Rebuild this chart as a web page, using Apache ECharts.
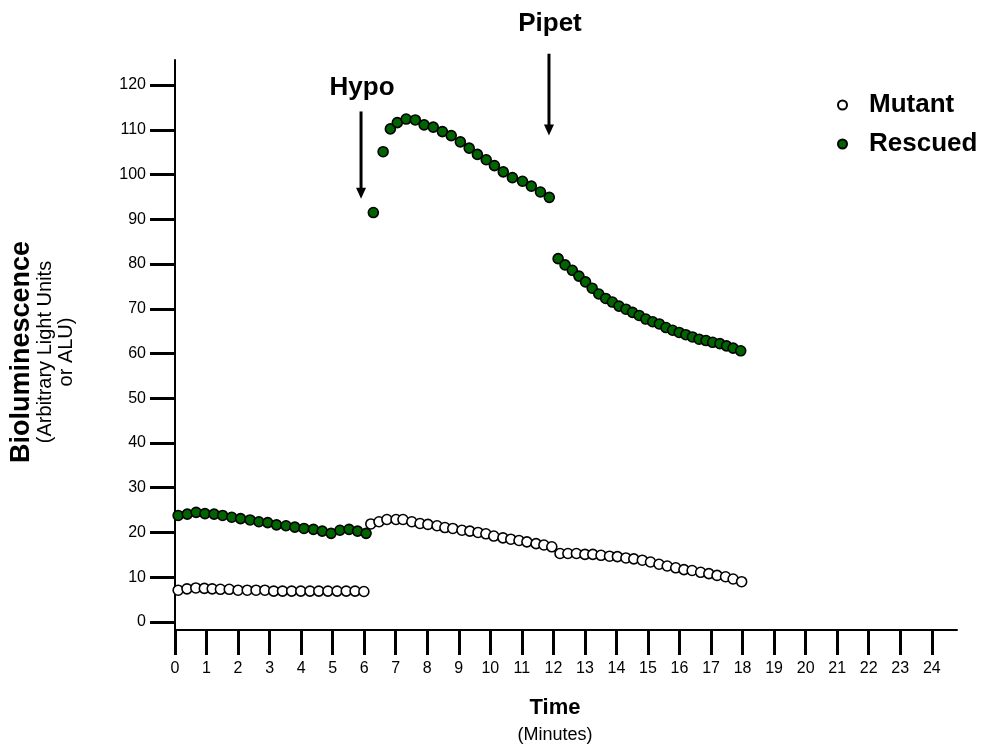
<!DOCTYPE html>
<html><head><meta charset="utf-8">
<script src="https://cdn.jsdelivr.net/npm/echarts@6/dist/echarts.min.js"></script>
<style>html,body{margin:0;padding:0;background:#fff}#c{width:983px;height:752px}</style>
</head><body><div id="c"></div>
<script>
// ---- data ----
const xTicks = [0,1,2,3,4,5,6,7,8,9,10,11,12,13,14,15,16,17,18,19,20,21,22,23,24];
const yTicks = [0,10,20,30,40,50,60,70,80,90,100,110,120];

const mutantTime = [0.10,0.38,0.66,0.93,1.18,1.44,1.72,2.00,2.29,2.57,2.85,3.13,3.41,3.70,3.99,4.28,4.56,4.85,5.14,5.43,5.71,5.99,
  6.21,6.47,6.72,7.01,7.23,7.51,7.77,8.02,8.31,8.56,8.81,9.10,9.35,9.61,9.86,10.11,10.40,10.65,10.91,11.16,11.45,11.70,11.95,
  12.21,12.46,12.73,13.00,13.25,13.51,13.78,14.03,14.30,14.55,14.82,15.08,15.35,15.61,15.88,16.14,16.40,16.67,16.93,17.19,17.46,17.70,17.97];
const mutantValue = [7.1,7.4,7.6,7.5,7.4,7.3,7.3,7.1,7.1,7.1,7.1,6.9,6.9,6.9,6.9,6.9,6.9,6.9,6.9,6.9,6.9,6.8,
  21.9,22.4,22.9,22.9,22.9,22.4,22.0,21.8,21.5,21.1,20.9,20.5,20.3,20.0,19.7,19.2,18.8,18.5,18.2,17.9,17.5,17.2,16.8,
  15.3,15.3,15.3,15.1,15.1,14.9,14.7,14.6,14.3,14.1,13.8,13.4,12.9,12.5,12.1,11.7,11.5,11.1,10.8,10.4,10.1,9.6,9.0];

const rescuedTime = [0.10,0.39,0.67,0.95,1.24,1.51,1.80,2.08,2.38,2.66,2.94,3.22,3.52,3.80,4.09,4.39,4.67,4.95,5.23,5.52,5.79,6.06,
  6.29,6.60,6.83,7.05,7.33,7.62,7.90,8.19,8.48,8.76,9.05,9.33,9.59,9.87,10.13,10.41,10.70,11.02,11.30,11.59,11.87,
  12.15,12.37,12.60,12.81,13.02,13.23,13.44,13.66,13.87,14.08,14.30,14.51,14.72,14.93,15.15,15.36,15.57,15.78,15.99,16.20,16.41,16.62,16.84,17.05,17.28,17.49,17.70,17.94];
const rescuedValue = [23.8,24.1,24.5,24.2,24.1,23.8,23.4,23.1,22.8,22.4,22.2,21.7,21.5,21.2,20.9,20.7,20.3,19.8,20.5,20.7,20.3,19.8,
  91.5,105.1,110.2,111.6,112.4,112.2,111.1,110.6,109.6,108.7,107.3,105.9,104.5,103.3,102.0,100.6,99.3,98.5,97.4,96.1,94.9,
  81.2,79.8,78.6,77.3,76.0,74.6,73.3,72.3,71.5,70.6,69.9,69.2,68.5,67.7,67.1,66.6,65.8,65.2,64.7,64.2,63.7,63.2,62.9,62.5,62.2,61.7,61.2,60.6];

// annotations: [label, time, arrowTop, arrowTip, labelValue]
const annotLabels = ['Hypo','Pipet'];
const annotTime = [5.9, 11.86];
const annotTop = [114.1, 127.0];
const annotTip = [94.6, 108.7];
const annotLabelValue = [119.3, 133.6];

// ---- chart ----
const FONT = '"Liberation Sans", Arial, Helvetica, sans-serif';
const chart = echarts.init(document.getElementById('c'), null, {renderer:'canvas'});
const option = {
  animation:false,
  backgroundColor:'#fff',
  grid:{left:175, right:26, top:60, bottom:122},
  xAxis:{type:'value', min:0, max:24.8,
    splitLine:{show:false},
    axisLine:{show:true, onZero:false, lineStyle:{color:'#000', width:2}},
    axisTick:{show:true, customValues:xTicks, length:25, lineStyle:{color:'#000', width:3}},
    axisLabel:{show:true, customValues:xTicks, margin:31, fontSize:16, color:'#000', fontFamily:FONT}
  },
  yAxis:{type:'value', min:-1.8, max:125.6,
    splitLine:{show:false},
    axisLine:{show:true, onZero:false, lineStyle:{color:'#000', width:2}},
    axisTick:{show:true, customValues:yTicks, length:25, lineStyle:{color:'#000', width:3}},
    axisLabel:{show:true, customValues:yTicks, margin:29, fontSize:16, color:'#000', fontFamily:FONT}
  },
  legend:{orient:'vertical', left:832, top:87, itemWidth:9, itemHeight:9, itemGap:13,
    data:['Mutant','Rescued'],
    formatter:function(n){return '{t|'+n+'}';},
    textStyle:{color:'#000', fontFamily:FONT, fontSize:26, fontWeight:'bold',
      rich:{t:{padding:[0,0,0,17], fontSize:26, fontWeight:'bold', fontFamily:FONT, color:'#000', lineHeight:28}}}
  },
  series:[
    {name:'Mutant', type:'scatter', symbol:'circle', symbolSize:10, clip:false,
      data: mutantTime.map((t,i)=>[t, mutantValue[i]]),
      itemStyle:{color:'#ffffff', borderColor:'#000', borderWidth:1.6, opacity:1}},
    {name:'Rescued', type:'scatter', symbol:'circle', symbolSize:10, clip:false,
      data: rescuedTime.map((t,i)=>[t, rescuedValue[i]]),
      itemStyle:{color:'#006400', borderColor:'#000', borderWidth:1.6, opacity:1}}
  ]
};
chart.setOption(option);

const P = (t,v) => chart.convertToPixel({gridIndex:0}, [t,v]);
const gfx = [];
function txt(x,y,text,size,weight,rot){
  return {type:'text', x:x, y:y, rotation:rot||0,
    style:{text:text, fontSize:size, fontWeight:weight, fontFamily:FONT, fill:'#000',
      align:'center', verticalAlign:'middle', textAlign:'center', textVerticalAlign:'middle'}};
}
for (let i=0;i<annotLabels.length;i++){
  const top = P(annotTime[i], annotTop[i]);
  const tip = P(annotTime[i], annotTip[i]);
  const lab = P(annotTime[i], annotLabelValue[i]);
  gfx.push({type:'line', shape:{x1:top[0], y1:top[1], x2:tip[0], y2:tip[1]-8}, style:{stroke:'#000', lineWidth:3}});
  gfx.push({type:'polygon', shape:{points:[[tip[0]-5, tip[1]-11],[tip[0]+5, tip[1]-11],[tip[0], tip[1]]]}, style:{fill:'#000'}});
  gfx.push(txt(lab[0]+1, lab[1], annotLabels[i], 26, 'bold'));
}
gfx.push(txt(555, 708, 'Time', 22, 'bold'));
gfx.push(txt(555, 735, '(Minutes)', 18, 'normal'));
gfx.push(txt(22, 352, 'Bioluminescence', 27, 'bold', Math.PI/2));
gfx.push(txt(45, 352, '(Arbitrary Light Units', 20, 'normal', Math.PI/2));
gfx.push(txt(66, 352, 'or ALU)', 20, 'normal', Math.PI/2));
chart.setOption({graphic:{elements:gfx}});
</script>
</body></html>
